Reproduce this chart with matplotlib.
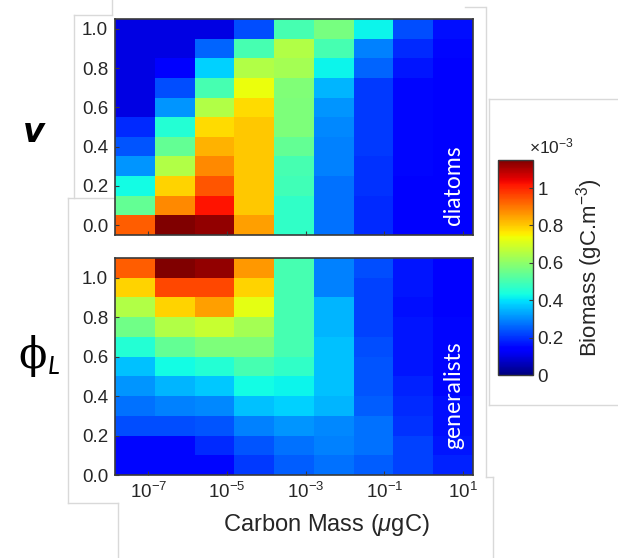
import numpy as np
import matplotlib
matplotlib.use("Agg")
import matplotlib.pyplot as plt
from matplotlib.lines import Line2D
from matplotlib.ticker import FixedLocator, FuncFormatter

# ---- data -----------------------------------------------------------------
# log10 of the carbon-mass class boundaries (ugC), nine size classes
log_mass_edges = np.linspace(-7.85, 1.25, 10)

# trait axes: diatom silica investment v (cell centres) and generalist phi_L (cell edges)
v_values = np.round(np.arange(0.0, 1.01, 0.1), 2)
phi_edges = np.round(np.arange(0.0, 1.11, 0.1), 2)

# biomass (x1e-3 gC m^-3); rows listed from the highest trait value down
diatoms = [
    [0.10, 0.10, 0.10, 0.23, 0.50, 0.57, 0.42, 0.23, 0.16],  # v = 1.0
    [0.10, 0.10, 0.26, 0.50, 0.65, 0.50, 0.29, 0.19, 0.15],
    [0.10, 0.14, 0.38, 0.65, 0.63, 0.42, 0.26, 0.17, 0.14],
    [0.10, 0.23, 0.50, 0.73, 0.58, 0.35, 0.21, 0.15, 0.13],
    [0.10, 0.31, 0.65, 0.78, 0.575, 0.31, 0.21, 0.15, 0.13],
    [0.19, 0.45, 0.78, 0.80, 0.575, 0.30, 0.21, 0.15, 0.13],
    [0.24, 0.54, 0.83, 0.80, 0.54, 0.29, 0.21, 0.15, 0.13],
    [0.31, 0.65, 0.88, 0.80, 0.50, 0.29, 0.20, 0.15, 0.13],
    [0.43, 0.79, 0.94, 0.80, 0.49, 0.27, 0.20, 0.14, 0.13],
    [0.54, 0.88, 1.02, 0.80, 0.47, 0.27, 0.19, 0.14, 0.13],
    [0.93, 1.15, 1.13, 0.85, 0.47, 0.27, 0.19, 0.14, 0.13],  # v = 0.0
]
generalists = [
    [0.93, 1.15, 1.13, 0.86, 0.50, 0.29, 0.23, 0.17, 0.13],  # phi_L 1.0-1.1
    [0.79, 0.96, 0.96, 0.79, 0.50, 0.29, 0.22, 0.17, 0.14],
    [0.65, 0.79, 0.85, 0.72, 0.50, 0.35, 0.22, 0.16, 0.14],
    [0.56, 0.65, 0.68, 0.63, 0.50, 0.35, 0.22, 0.17, 0.15],
    [0.45, 0.54, 0.575, 0.575, 0.50, 0.36, 0.23, 0.17, 0.15],
    [0.36, 0.43, 0.45, 0.50, 0.47, 0.36, 0.24, 0.17, 0.15],
    [0.31, 0.35, 0.37, 0.43, 0.42, 0.36, 0.24, 0.18, 0.15],
    [0.27, 0.29, 0.30, 0.36, 0.38, 0.35, 0.25, 0.19, 0.16],
    [0.23, 0.23, 0.24, 0.29, 0.31, 0.30, 0.27, 0.20, 0.16],
    [0.15, 0.15, 0.19, 0.24, 0.27, 0.29, 0.27, 0.22, 0.17],
    [0.15, 0.15, 0.15, 0.21, 0.25, 0.27, 0.25, 0.22, 0.18],  # phi_L 0.0-0.1
]

x_tick_exponents = [-7, -5, -3, -1, 1]
y_ticks = [0.0, 0.2, 0.4, 0.6, 0.8, 1.0]
cbar_ticks = [0, 0.2, 0.4, 0.6, 0.8, 1.0]
vmin, vmax = 0.0, 1.15

# ---- style ----------------------------------------------------------------
plt.rcParams["font.family"] = ["Liberation Sans", "DejaVu Sans"]
plt.rcParams["mathtext.fontset"] = "custom"
plt.rcParams["mathtext.rm"] = "Liberation Sans"
plt.rcParams["mathtext.it"] = "Liberation Sans:italic"
txt = "#262626"
spine = "#3a3a3a"
frame = "#d9d9d9"

fig = plt.figure(figsize=(6.18, 5.58), dpi=100)
W, H = 618.0, 558.0


def ax_rect(x0, y0, x1, y1):
    return [x0 / W, 1 - y1 / H, (x1 - x0) / W, (y1 - y0) / H]


# faint panel frames around the assembled pieces
def fline(xs, ys):
    fig.add_artist(Line2D([x / W for x in xs], [1 - y / H for y in ys],
                          color=frame, lw=1.0, transform=fig.transFigure, zorder=0))


fline([74, 74], [15, 198])
fline([74, 112], [15, 15])
fline([112, 112], [0, 15])
fline([68, 115], [198, 198])
fline([68, 68], [198, 503])
fline([68, 118], [503, 503])
fline([118, 118], [503, 558])
fline([465, 485], [7, 7])
fline([485.5, 485.5], [7, 477])
fline([485.5, 493], [477, 477])
fline([493, 493], [477, 558])
fline([489, 618], [99, 99])
fline([489, 489], [99, 405])
fline([489, 618], [405, 405])

x_edges = 10.0 ** log_mass_edges
cmap = plt.get_cmap("jet")


def style_axis(ax):
    ax.set_xscale("log")
    ax.set_xlim(x_edges[0], x_edges[-1])
    ax.xaxis.set_major_locator(FixedLocator([10.0 ** e for e in x_tick_exponents]))
    ax.xaxis.set_minor_locator(FixedLocator([]))
    ax.xaxis.set_major_formatter(
        FuncFormatter(lambda v, p: r"$\mathregular{10^{%d}}$" % round(np.log10(v))))
    ax.tick_params(direction="in", length=3, width=0.8, color=spine,
                   labelsize=13.5, labelcolor=txt, pad=5)
    ax.set_yticks(y_ticks)
    ax.set_yticklabels([f"{t:.1f}" for t in y_ticks])
    for s in ax.spines.values():
        s.set_color(spine)
        s.set_linewidth(1.2)


# diatoms: rows centred on v values
ax1 = fig.add_axes(ax_rect(115, 19, 473, 235))
v_edges = np.concatenate([v_values - 0.05, [v_values[-1] + 0.05]])
ax1.pcolormesh(x_edges, v_edges, np.array(diatoms)[::-1], cmap=cmap,
               vmin=vmin, vmax=vmax, shading="flat")
style_axis(ax1)
ax1.set_ylim(v_edges[0], v_edges[-1])
ax1.tick_params(axis="x", labelbottom=False)
ax1.text(0.945, 0.045, "diatoms", transform=ax1.transAxes, rotation=90,
         ha="center", va="bottom", color="white", fontsize=16.5, family="Lato")

# generalists: rows span phi_L bins
ax2 = fig.add_axes(ax_rect(115, 258, 473, 475))
mesh = ax2.pcolormesh(x_edges, phi_edges, np.array(generalists)[::-1], cmap=cmap,
                      vmin=vmin, vmax=vmax, shading="flat")
style_axis(ax2)
ax2.set_ylim(phi_edges[0], phi_edges[-1])
ax2.text(0.945, 0.12, "generalists", transform=ax2.transAxes, rotation=90,
         ha="center", va="bottom", color="white", fontsize=16.5, family="Lato")
ax2.set_xlabel(r"Carbon Mass ($\mu$gC)", fontsize=17, color=txt)
ax2.xaxis.set_label_coords(0.589, -0.17)

# trait labels on the left
fig.text(34 / W, 1 - 132 / H, "v", fontsize=24, style="italic", weight="bold",
         ha="center", va="center", color="black", family="DejaVu Sans")
fig.text(33 / W, 1 - 356 / H, "\u03d5", fontsize=30, ha="center", va="center",
         color="black", family="DejaVu Serif")
fig.text(54 / W, 1 - 366 / H, "L", fontsize=18, style="italic",
         ha="center", va="center", color="black", family="Lato")

# colour bar
cax = fig.add_axes(ax_rect(498, 160, 533, 375))
cb = fig.colorbar(mesh, cax=cax, ticks=cbar_ticks)
cb.ax.set_yticklabels(["0", "0.2", "0.4", "0.6", "0.8", "1"])
cb.ax.tick_params(direction="in", length=3, width=0.8, color=spine,
                  labelsize=13.5, labelcolor=txt, pad=3)
cb.outline.set_edgecolor(spine)
cb.outline.set_linewidth(1.0)
cb.set_label(r"Biomass (gC.m$^{-3}$)", fontsize=16, color=txt, labelpad=8)
fig.text(551 / W, 1 - 146 / H, r"$\times\mathregular{10^{-3}}$", fontsize=12.5,
         ha="center", va="center", color=txt)

fig.savefig("out.png", dpi=100)
